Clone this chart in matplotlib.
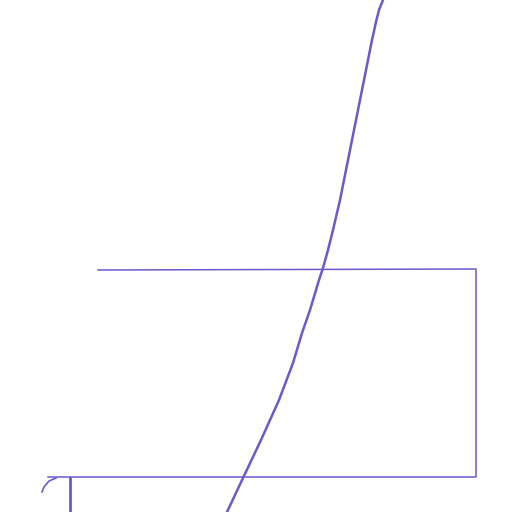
import matplotlib

matplotlib.use("Agg")
import matplotlib.pyplot as plt

# pixel coordinates (y grows downward)
curve_x = [383, 379, 376, 372, 368, 361, 356, 348, 340, 333, 328, 323, 319, 310, 302, 293, 279, 261, 243, 227]
curve_y = [0, 10, 22, 40, 60, 95, 120, 160, 200, 230, 250, 268, 280, 310, 333, 363, 400, 440, 478, 512]

box_x = [98, 476, 476, 48]
box_y = [270, 269, 477, 477]

stub_x = [70, 70]
stub_y = [478, 512]

hook_x = [56, 49, 44, 42]
hook_y = [478, 481, 487, 492]

color = "#6a5acd"

fig = plt.figure(figsize=(5.12, 5.12), dpi=100)
ax = fig.add_axes([0, 0, 1, 1])
ax.plot(curve_x, curve_y, color=color, lw=1.8, solid_capstyle="round")
ax.plot(box_x, box_y, color=color, lw=1.1)
ax.plot(stub_x, stub_y, color=color, lw=2.0)
ax.plot(hook_x, hook_y, color=color, lw=1.2)
ax.set_xlim(0, 512)
ax.set_ylim(512, 0)
ax.axis("off")
fig.savefig("out.png", dpi=100)
plt.close(fig)
